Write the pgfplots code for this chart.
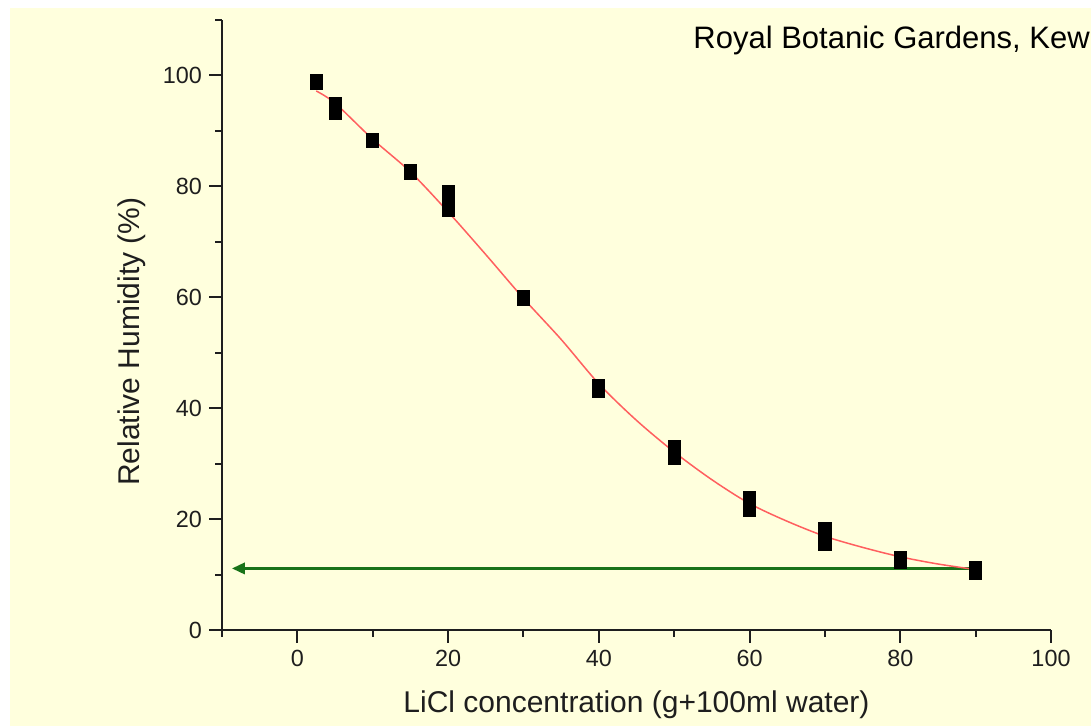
\documentclass[border=0pt]{standalone}
\usepackage{fontspec}
\setmainfont{Liberation Sans}
\usepackage{pgfplots}
\pgfplotsset{compat=1.18}
\usetikzlibrary{arrows.meta}
\definecolor{paper}{RGB}{255,255,221}
\definecolor{fitred}{RGB}{255,95,95}
\definecolor{arrowgreen}{RGB}{25,115,25}
\definecolor{axisgray}{RGB}{30,30,30}

\begin{document}
\begin{tikzpicture}
% 1 px of the reference = 0.5pt; axis box lower left (x=-10, y=0) sits at (0,0)
\fill[white] (-111pt,-48pt) rectangle (434.5pt,315pt);
\fill[paper] (-106pt,-48pt) rectangle (434.5pt,311pt);
\begin{axis}[
  scale only axis, width=414.5pt, height=305pt,
  xmin=-10, xmax=100, ymin=0, ymax=110,
  axis x line=bottom, axis y line=left,
  axis line style={-, draw=axisgray, line width=1pt},
  tick align=outside,
  major tick length=6.5pt, minor tick length=3.5pt,
  every tick/.style={draw=axisgray, line width=1pt},
  xtick={0,20,...,100}, minor xtick={-10,10,...,90},
  ytick={0,20,...,100}, minor ytick={10,30,...,110},
  tick label style={font=\fontsize{11.7}{14}\selectfont, text=axisgray},
  /pgf/number format/assume math mode=true,
  xlabel={LiCl concentration (g+100ml water)},
  ylabel={Relative Humidity (\%)},
  label style={font=\fontsize{15}{18}\selectfont, text=axisgray},
  xlabel style={at={(axis cs:45,-13.5)}, anchor=center},
  ylabel style={at={(axis cs:-22,52)}, anchor=center},
  clip=false,
]
% equilibrium line
\addplot[arrowgreen, line width=1.6pt, -{Triangle[length=6.5pt,width=5.5pt]}]
  coordinates {(89.5,11.1) (-8.7,11.1)};
% measured points
\addplot[only marks, mark=square*, mark size=3.7pt,
  mark options={fill=black, draw=none, xscale=0.82}]
  coordinates {
    (2.5,98.8) (5,94.7) (5,93.4) (10,88.3) (15,82.6)
    (20,78.8) (20,76.0) (30,59.9) (40,43.8) (40,43.2)
    (50,32.9) (50,31.2) (60,23.7) (60,21.8) (70,18.0) (70,15.6)
    (80,12.9) (80,12.5) (90,11.1) (90,10.5)
  };
% fitted curve
\addplot[fitred, line width=0.75pt, smooth, no marks]
  coordinates {
    (2.5,97.2) (5,95.0) (10,88.5) (15,82.6) (20,75.4) (25,67.7)
    (30,59.8) (35,52.4) (40,44.4) (45,37.8) (50,32.1) (55,27.1)
    (60,22.8) (65,19.6) (70,16.9) (75,14.9) (80,13.2) (85,11.9) (90,10.9)
  };
\node[anchor=base west, inner sep=0pt, font=\fontsize{15.5}{18}\selectfont]
  at (axis cs:52.5,104.9) {Royal Botanic Gardens, Kew};
\end{axis}
\pgfresetboundingbox
\path (-111pt,-48pt) rectangle (434.5pt,315pt);
\end{tikzpicture}
\end{document}
